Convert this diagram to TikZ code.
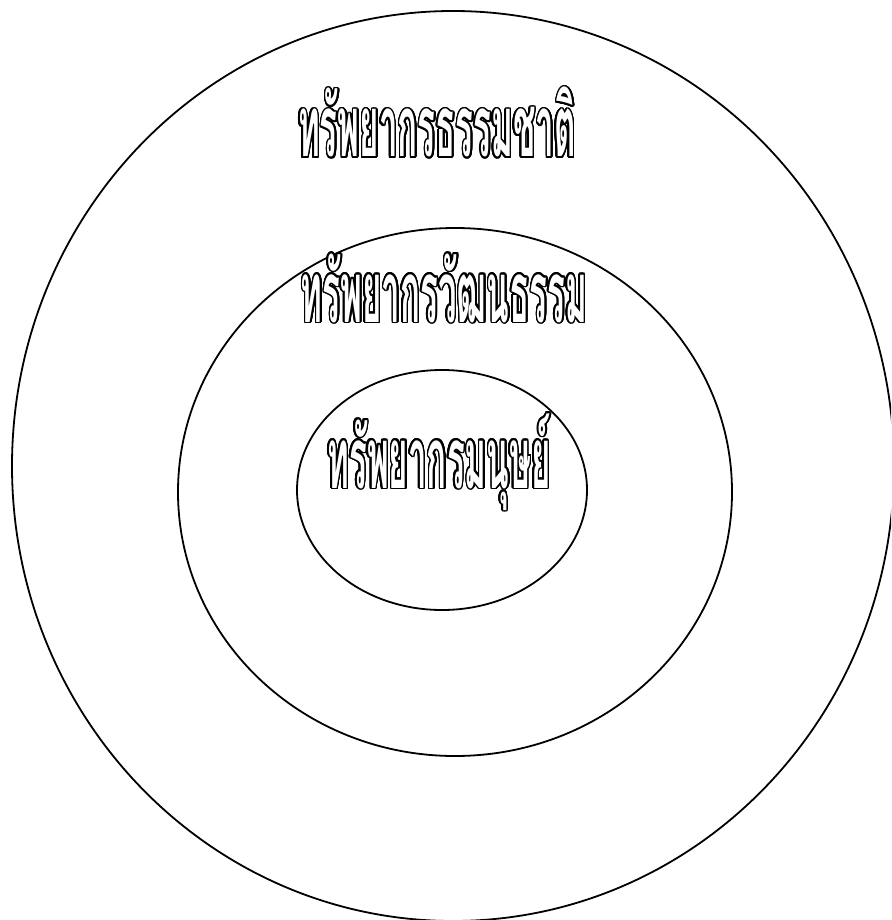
\documentclass[tikz,border=0pt]{standalone}
\usepackage{fontspec}
\usepackage{contour}
\usetikzlibrary{shapes.geometric}
\newfontfamily\thaifont[Script=Thai]{Loma}
\contourlength{1.6pt}
\contournumber{24}
\newcommand{\hollow}[1]{\contour{black}{\scalebox{0.39}[1]{#1}}}
\tikzset{
  ring/.style={draw=black,ellipse,line width=1.8pt,inner sep=0pt},
  thaiword/.style={font=\thaifont\bfseries\fontsize{85}{85}\selectfont,
                   text=white,anchor=base,inner sep=0pt},
}

\begin{document}
\begin{tikzpicture}[x=1pt,y=-1pt]
  \useasboundingbox (0,0) rectangle (891,920);
  \clip (0,0) rectangle (891,920);

  % three nested resource circles
  \node[ring,minimum width=882pt,minimum height=910pt] (nature)  at (453,466) {};
  \node[ring,minimum width=554pt,minimum height=528pt] (culture) at (455,492) {};
  \node[ring,minimum width=290pt,minimum height=240pt] (human)   at (442,490) {};

  \node[thaiword] (natlbl) at (437,157) {\hollow{ทรัพยากรธรรมชาติ}};
  \node[thaiword] (cullbl) at (444,322) {\hollow{ทรัพยากรวัฒนธรรม}};
  \node[thaiword] (humlbl) at (439,488) {\hollow{ทรัพยากรมนุษย์}};
\end{tikzpicture}
\end{document}
